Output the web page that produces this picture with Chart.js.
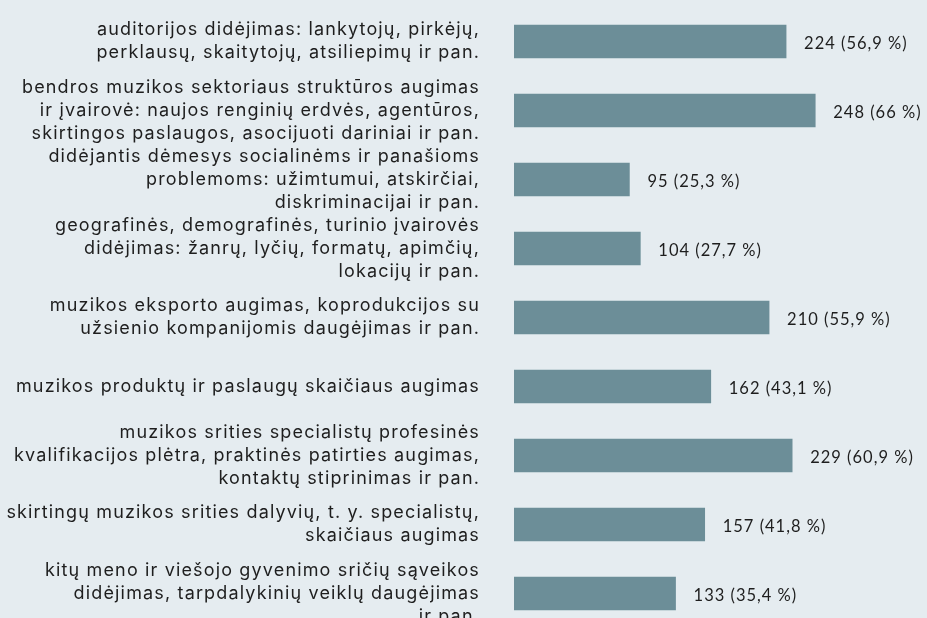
<!DOCTYPE html>
<html>
<head>
<meta charset="utf-8">
<script src="https://cdn.jsdelivr.net/npm/chart.js@4/dist/chart.umd.min.js"></script>
<style>
    html, body { margin: 0; padding: 0; background: #e5ecf0; overflow: hidden; }
    #wrap { position: relative; width: 927px; height: 628px; }
</style>
</head>
<body>
<div id="wrap"><canvas id="chart"></canvas></div>
<script>
// Categories (each one split into the lines shown in the picture)
const categories = [
    ['auditorijos didėjimas: lankytojų, pirkėjų,', 'perklausų, skaitytojų, atsiliepimų ir pan.'],
    ['bendros muzikos sektoriaus struktūros augimas', 'ir įvairovė: naujos renginių erdvės, agentūros,', 'skirtingos paslaugos, asocijuoti dariniai ir pan.'],
    ['didėjantis dėmesys socialinėms ir panašioms', 'problemoms: užimtumui, atskirčiai,', 'diskriminacijai ir pan.'],
    ['geografinės, demografinės, turinio įvairovės', 'didėjimas: žanrų, lyčių, formatų, apimčių,', 'lokacijų ir pan.'],
    ['muzikos eksporto augimas, koprodukcijos su', 'užsienio kompanijomis daugėjimas ir pan.'],
    ['muzikos produktų ir paslaugų skaičiaus augimas'],
    ['muzikos srities specialistų profesinės', 'kvalifikacijos plėtra, praktinės patirties augimas,', 'kontaktų stiprinimas ir pan.'],
    ['skirtingų muzikos srities dalyvių, t. y. specialistų,', 'skaičiaus augimas'],
    ['kitų meno ir viešojo gyvenimo sričių sąveikos', 'didėjimas, tarpdalykinių veiklų daugėjimas', 'ir pan.']
];

// Series values
const counts = [224, 248, 95, 104, 210, 162, 229, 157, 133];
const percents = ['56,9', '66', '25,3', '27,7', '55,9', '43,1', '60,9', '41,8', '35,4'];

const barColor = '#6c8e98';
const textColor = '#1e1e1e';

// wider spacing for the category text
const spacing = {
    id: 'spacing',
    beforeDraw(chart) {
        chart.ctx.letterSpacing = '1.15px';
    }
};

// value labels to the right of each bar
const valueLabels = {
    id: 'valueLabels',
    afterDatasetsDraw(chart) {
        const ctx = chart.ctx;
        const meta = chart.getDatasetMeta(0);
        ctx.save();
        ctx.letterSpacing = '1px';
        ctx.font = '16.5px Lato';
        ctx.fillStyle = textColor;
        ctx.textAlign = 'left';
        ctx.textBaseline = 'middle';
        meta.data.forEach(function(bar, i) {
            ctx.fillText(counts[i] + ' (' + percents[i] + ' %)', bar.x + 18, bar.y + 2);
        });
        ctx.restore();
    }
};

new Chart(document.getElementById('chart'), {
    type: 'bar',
    data: {
        labels: categories,
        datasets: [{
            data: counts,
            backgroundColor: barColor,
            borderWidth: 0,
            barThickness: 33
        }]
    },
    options: {
        indexAxis: 'y',
        responsive: true,
        maintainAspectRatio: false,
        animation: false,
        layout: { padding: { top: 7, right: 0, bottom: 0, left: 0 } },
        plugins: {
            legend: { display: false },
            tooltip: { enabled: false }
        },
        scales: {
            x: {
                display: false,
                min: 0,
                max: 340
            },
            y: {
                grid: { display: false },
                border: { display: false },
                ticks: {
                    autoSkip: false,
                    color: textColor,
                    padding: 26,
                    font: { family: 'Inter', size: 18, lineHeight: 1.28 }
                },
                afterFit(scale) {
                    scale.width = 514;
                    scale.paddingTop = 0;
                    scale.paddingBottom = 0;
                }
            }
        }
    },
    plugins: [spacing, valueLabels]
});
</script>
</body>
</html>
